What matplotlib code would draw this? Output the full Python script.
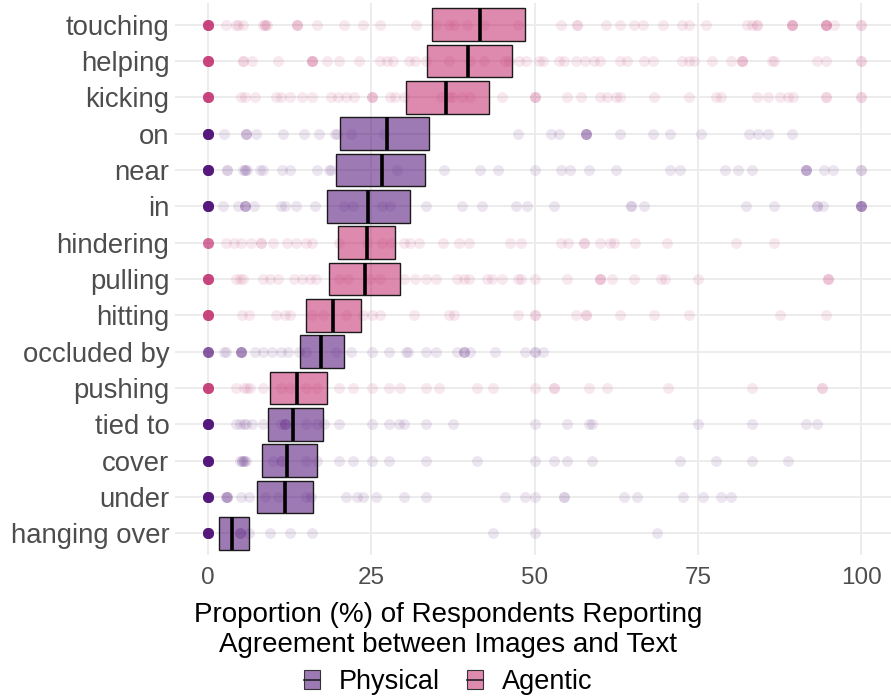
import matplotlib
matplotlib.use('Agg')
import matplotlib.pyplot as plt
from matplotlib.colors import to_rgba
from matplotlib.patches import Rectangle
from matplotlib.lines import Line2D
from matplotlib.legend_handler import HandlerBase

plt.rcParams['font.family'] = ['Liberation Sans', 'DejaVu Sans']

# categories, top to bottom
categories = ['touching', 'helping', 'kicking', 'on', 'near', 'in', 'hindering',
              'pulling', 'hitting', 'occluded by', 'pushing', 'tied to',
              'cover', 'under', 'hanging over']
groups = ['Agentic', 'Agentic', 'Agentic', 'Physical', 'Physical', 'Physical',
          'Agentic', 'Agentic', 'Agentic', 'Physical', 'Agentic', 'Physical',
          'Physical', 'Physical', 'Physical']
means = [41.6, 39.9, 36.5, 27.4, 26.6, 24.5, 24.3, 24.0, 19.1, 17.4, 13.6,
         13.0, 12.2, 11.8, 3.7]
lows = [34.3, 33.5, 30.3, 20.2, 19.6, 18.2, 20.0, 18.5, 15.1, 14.1, 9.5,
        9.2, 8.3, 7.6, 1.7]
highs = [48.5, 46.5, 43.1, 33.9, 33.3, 31.0, 28.6, 29.4, 23.4, 20.9, 18.2,
         17.6, 16.7, 16.1, 6.3]

# individual respondent proportions (repeats = overlapping points)
touching_pts = [0]*18 + [2.75, 4.3, 4.6, 5.4, 8.4, 8.7, 8.7, 9.1] + [13.7]*3 + [
    16.8, 20.8, 23.8, 26.3, 31.9, 34.9, 36.9, 37.7, 39.6, 42.2, 47.4, 54.1,
    56.5, 56.5, 60.9, 63.1, 65.2, 66.6, 69.6, 72.6, 73.7, 76.3, 82.5, 83.3,
    84.1, 84.1] + [89.4]*4 + [94.6]*5 + [95.8, 100, 100]
helping_pts = [0]*18 + [5.4, 5.4, 6.8, 10.7] + [15.9]*4 + [
    18.3, 20.1, 23.2, 26.3, 27.4, 28.3, 30.8, 31.7, 33.4, 36.9, 40.2, 42.2,
    45.5, 46.1, 47.6, 48.7, 50.7, 51.3, 53.7, 54.5, 56.4, 57.8, 59.1, 60.0,
    63.1, 64.2, 66.7, 68.1, 72.6, 73.6, 74.4, 77.2, 80.0] + [81.8]*3 + [
    86.3, 86.7, 93.2, 94.6, 100, 100]
kicking_pts = [0]*18 + [5.1, 5.7, 7.2, 10.5, 11.2, 12.6, 14.4, 15.9, 18.8,
                        20.0, 21.1, 22.4] + [25.1]*3 + [
    27.9, 28.7, 30.0, 35.7, 36.9, 37.4, 38.9, 40.1, 45.1] + [50.0]*3 + [
    55.0, 57.1, 60.0, 61.1, 62.5, 63.1, 68.3, 73.7, 77.7, 78.5, 84.1, 85.7,
    87.5, 88.8, 89.5, 94.6, 94.6, 100, 100]
on_pts = [0]*25 + [2.5] + [5.9]*3 + [7.4, 11.5, 14.7, 17.1, 19.5, 19.8, 22.0,
                                    26.9, 47.4, 52.6, 53.7] + [57.9]*5 + [
    63.1, 68.2, 70.7, 75.5, 82.8, 84.2, 85.7, 89.4]
near_pts = [0]*25 + [2.9]*2 + [5.4] + [5.7]*2 + [
    6.0, 8.0, 8.4, 11.3, 12.6, 16.8, 18.5, 18.8, 29.0, 36.1, 41.7, 44.4, 50.0,
    54.1, 55.5, 58.3, 62.5, 70.8, 72.2, 79.1, 81.2, 83.3] + [91.5]*4 + [
    94.3, 95.7, 100, 100]
in_pts = [0]*25 + [2.4, 4.6] + [5.7]*4 + [
    7.1, 11.2, 11.9, 13.5, 16.4, 20.9, 22.3, 26.7, 27.9, 33.4, 38.9, 41.9,
    47.1, 48.9, 53.0, 64.7, 64.7, 66.7, 82.3, 86.6, 93.2, 93.2, 94.2] + [100]*6
hindering_pts = [0]*10 + [
    2.75, 4.0, 5.1, 6.7, 8.1, 8.1, 10.0, 12.1, 13.5, 15.0, 16.0, 20.1, 24.4,
    26.7, 28.0, 30.0, 30.9, 32.3, 36.0, 38.5, 40.0, 46.2, 48.0, 54.1, 55.1,
    57.6, 57.6, 60.0, 61.5, 62.1, 65.4, 70.2, 80.8, 86.6]
pulling_pts = [0]*18 + [
    4.4, 4.9, 5.4, 8.5, 9.6, 10.7, 13.2, 14.4, 15.7, 16.6, 20.1, 21.4, 24.9,
    26.3, 30.0, 31.7, 33.4, 34.9, 38.1, 39.2, 40.0, 42.8, 43.5, 45.0, 47.5,
    47.9, 50.0, 55.0] + [60.0]*3 + [61.9, 65.2, 69.4, 69.9, 75.0] + [94.9]*3
hitting_pts = [0]*18 + [
    5.3, 6.3, 10.5, 11.9, 12.6, 15.9, 17.7, 21.1, 23.7, 25.1, 26.3, 31.5,
    36.9, 37.7, 47.4, 50.0, 50.0, 56.3, 57.9, 57.9, 63.1, 68.3, 73.7, 87.5,
    94.6]
occluded_pts = [0]*10 + [2.5, 2.75] + [5.1]*6 + [
    7.2, 8.5, 9.8, 11.2, 12.3, 14.0, 15.1, 19.6, 22.0, 25.1, 27.8, 30.3, 30.7,
    33.4, 35.0, 38.2] + [39.2]*3 + [40.1, 43.9, 48.6, 50.0, 50.0, 51.3]
pushing_pts = [0]*18 + [
    4.3, 5.6, 6.0, 6.4, 8.5, 11.2, 12.6, 15.1, 16.8, 20.1, 22.3, 25.1, 27.8,
    29.4, 33.4, 35.4, 41.2, 43.7, 50.0, 53.0, 53.0, 58.3, 61.1, 70.5, 83.3,
    94.0, 94.0]
tied_pts = [0]*25 + [4.3, 4.9, 5.5, 5.8, 6.8, 8.4, 11.2] + [11.9]*3 + [
    15.1, 16.8, 17.8, 20.1, 25.1, 27.8, 29.3, 30.0, 33.4, 37.6, 50.0, 55.0,
    58.3, 58.8, 75.0, 83.3, 91.6, 93.2]
cover_pts = [0]*25 + [4.9, 5.3, 5.3, 5.6, 5.6, 5.8, 10.0, 11.2, 11.4, 15.1,
                      16.8, 20.1, 22.3, 25.1, 27.8, 33.4, 41.2, 50.0, 53.0,
                      55.0, 58.8, 72.2, 77.7, 83.3, 88.8]
under_pts = [0]*25 + [2.75]*2 + [3.0]*3 + [
    5.1, 6.3, 8.7, 10.7, 15.1, 15.8, 21.1, 22.9, 23.7, 25.8, 30.0, 33.4, 45.5,
    48.5, 50.0, 54.5, 54.5, 63.7, 65.7, 72.7, 75.8, 78.6, 80.0]
hanging_pts = [0]*25 + [4.9]*3 + [6.3, 9.6, 12.6, 15.9, 43.7, 50.0, 68.8]

points = [touching_pts, helping_pts, kicking_pts, on_pts, near_pts, in_pts,
          hindering_pts, pulling_pts, hitting_pts, occluded_pts, pushing_pts,
          tied_pts, cover_pts, under_pts, hanging_pts]

colors = {'Physical': '#4F0D77', 'Agentic': '#C32A6C'}


class CrossbarKey(HandlerBase):
    # filled box with a line across the middle, like the crossbar key
    def create_artists(self, legend, orig_handle, xdescent, ydescent,
                       width, height, fontsize, trans):
        rect = Rectangle((-xdescent, -ydescent), width, height,
                         facecolor=orig_handle.get_facecolor(),
                         edgecolor='#333333', linewidth=0.8, transform=trans)
        mid = -ydescent + height / 2
        line = Line2D([-xdescent, -xdescent + width], [mid, mid],
                      color='#222222', linewidth=1.2, transform=trans)
        return [rect, line]


fig = plt.figure(figsize=(8.91, 6.96), dpi=100)
ax = fig.add_axes([175/891, 1 - 555/696, 719/891, 552/696])

n = len(categories)
ypos = [n - 1 - i for i in range(n)]

for i, cat in enumerate(categories):
    c = colors[groups[i]]
    ax.scatter(points[i], [ypos[i]]*len(points[i]), s=62, color=c, alpha=0.1,
               linewidths=0, zorder=2)

for i, cat in enumerate(categories):
    c = colors[groups[i]]
    ax.barh(ypos[i], highs[i] - lows[i], left=lows[i], height=0.9,
            facecolor=to_rgba(c, 0.55), edgecolor='#1a1a1a', linewidth=1.0,
            zorder=3)
    ax.vlines(means[i], ypos[i] - 0.45, ypos[i] + 0.45, color='black',
              linewidth=2.6, zorder=4)

ax.set_xlim(-5, 105)
ax.set_ylim(-0.6, n - 0.4)
ax.set_xticks([0, 25, 50, 75, 100])
ax.set_yticks(ypos)
ax.set_yticklabels(categories)
ax.tick_params(axis='both', length=0, labelcolor='#4D4D4D')
ax.tick_params(axis='x', pad=9, labelsize=17.5)
ax.tick_params(axis='y', pad=4, labelsize=19.8)
ax.grid(True, color='#EBEBEB', linewidth=1.3)
ax.set_axisbelow(True)
for s in ax.spines.values():
    s.set_visible(False)

fig.text(0.503, 1 - 630/696,
         'Proportion (%) of Respondents Reporting\nAgreement between Images and Text',
         ha='center', va='center', fontsize=20, color='black', linespacing=1.15)

labels = ['Physical', 'Agentic']
handles = [Rectangle((0, 0), 1, 1, facecolor=to_rgba(colors[g], 0.55))
           for g in labels]
fig.legend(handles, labels, loc='center', bbox_to_anchor=(0.503, 1 - 682/696),
           ncol=2, frameon=False, fontsize=19.5, handlelength=0.6,
           handleheight=0.75, handletextpad=0.7, columnspacing=1.0,
           handler_map={Rectangle: CrossbarKey()})

fig.savefig('out.png', dpi=100)
